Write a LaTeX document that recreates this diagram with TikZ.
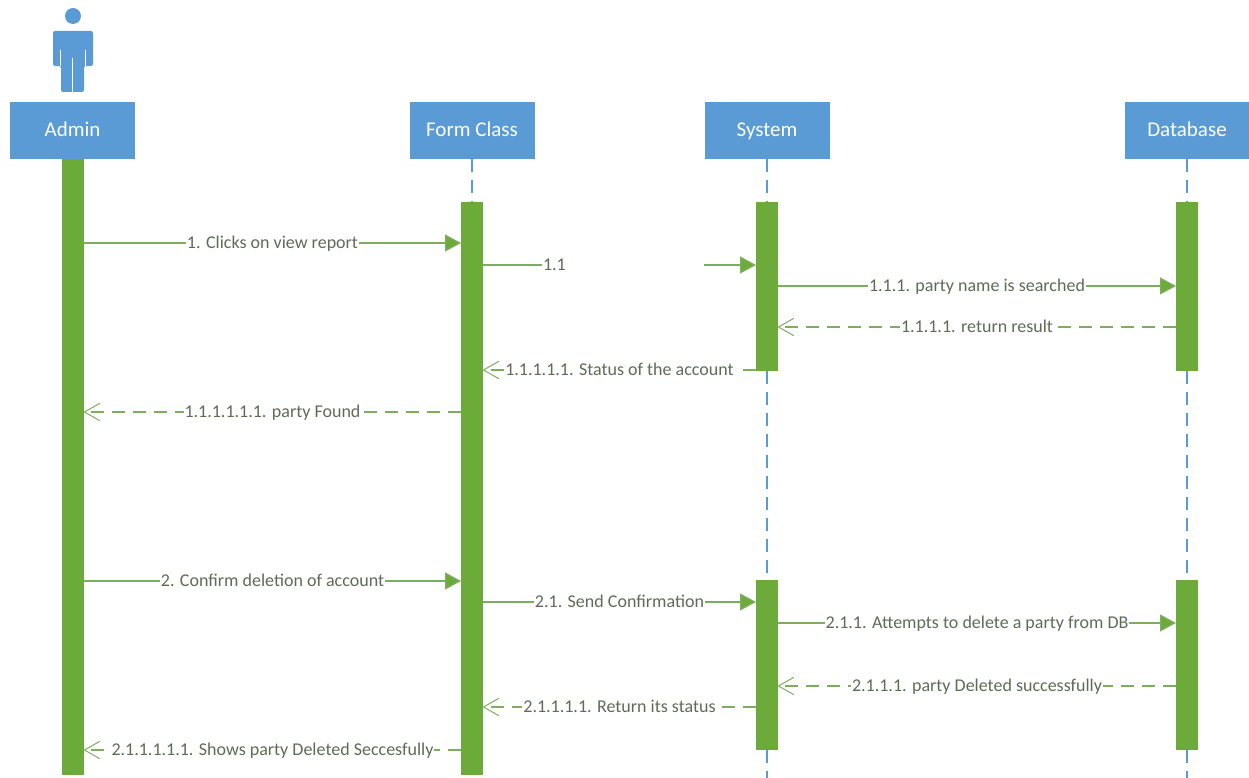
\documentclass[tikz,border=0pt]{standalone}
\usepackage{fontspec}
\setmainfont{Carlito}
\usetikzlibrary{arrows.meta}
\definecolor{boxblue}{HTML}{5B9BD5}
\definecolor{bargreen}{HTML}{6CAA3A}
\definecolor{msggreen}{HTML}{7DAE5F}
\definecolor{msgtext}{HTML}{5F6B58}
\tikzset{
	headbox/.style={rectangle, fill=boxblue, text=white, minimum width=125pt, minimum height=57pt, inner sep=0pt, outer sep=0pt, text height=14pt, text depth=2pt, font=\fontsize{21}{24}\selectfont},
	bar/.style={rectangle, fill=bargreen, minimum width=22pt, inner sep=0pt, outer sep=0pt},
	lifeline/.style={draw=boxblue, line width=1.3pt, dash pattern=on 13pt off 8pt},
	syncmsg/.style={draw=msggreen, line width=1.3pt, -{Triangle[length=16pt,width=17pt,fill=bargreen]}},
	returnmsg/.style={draw=msggreen, line width=1.3pt, dash pattern=on 13pt off 8pt, -{Straight Barb[length=15pt,width=17pt,line width=1pt,round]}},
	msglabel/.style={fill=white, text=msgtext, inner sep=1pt, text height=12pt, text depth=2pt, font=\fontsize{18}{21}\selectfont}
}
\begin{document}
\begin{tikzpicture}[x=1pt,y=-1pt]
	\useasboundingbox (0,0) rectangle (1249,778);

	% actor
	\fill[boxblue] (73,16) circle (8);
	\fill[boxblue, rounded corners=2pt] (53,31) -- (93,31) -- (93,66) -- (84,66) -- (84,92) -- (61,92) -- (61,66) -- (53,66) -- cycle;
	\draw[white, line width=1pt] (60,50) -- (60,66) (85,50) -- (85,66) (72.5,58) -- (72.5,92);

	\node[headbox] (adminbox) at (72.5,130.5) {Admin};
	\node[headbox] (formbox) at (472,130.5) {Form Class};
	\node[headbox] (systembox) at (767,130.5) {System};
	\node[headbox] (databasebox) at (1187,130.5) {Database};

	\node[bar, minimum height=616pt] (adminbar) at (73,467) {};
	\node[bar, minimum height=573pt] (formbar) at (472,488.5) {};
	\node[bar, minimum height=169pt] (systembar1) at (767,286.5) {};
	\node[bar, minimum height=170pt] (systembar2) at (767,665) {};
	\node[bar, minimum height=169pt] (databasebar1) at (1187,286.5) {};
	\node[bar, minimum height=170pt] (databasebar2) at (1187,665) {};
	\coordinate (systemend) at (767,778);
	\coordinate (databaseend) at (1187,778);

	\draw[lifeline] (formbox) -- (formbar);
	\draw[lifeline] (systembox) -- (systembar1);
	\draw[lifeline] (systembar1) -- (systembar2);
	\draw[lifeline] (systembar2) -- (systemend);
	\draw[lifeline] (databasebox) -- (databasebar1);
	\draw[lifeline] (databasebar1) -- (databasebar2);
	\draw[lifeline] (databasebar2) -- (databaseend);

	\draw[syncmsg] (adminbar.east |- 0,243) -- node[msglabel] (msgclicks) {1. Clicks on view report} (formbar.west |- 0,243);
	\draw[syncmsg] (formbar.east |- 0,265) -- node[msglabel, text width=160pt, align=left, xshift=3.5pt] (msgone) {1.1} (systembar1.west |- 0,265);
	\draw[syncmsg] (systembar1.east |- 0,286) -- node[msglabel] (msgsearched) {1.1.1. party name is searched} (databasebar1.west |- 0,286);
	\draw[returnmsg] (databasebar1.west |- 0,327) -- node[msglabel] (msgresult) {1.1.1.1. return result} (systembar1.east |- 0,327);
	\draw[returnmsg] (systembar1.west |- 0,370) -- node[msglabel] (msgstatus) {1.1.1.1.1. Status of the account} (formbar.east |- 0,370);
	\draw[returnmsg] (formbar.west |- 0,412) -- node[msglabel] (msgfound) {1.1.1.1.1.1. party Found} (adminbar.east |- 0,412);

	\draw[syncmsg] (adminbar.east |- 0,581) -- node[msglabel] (msgconfirm) {2. Confirm deletion of account} (formbar.west |- 0,581);
	\draw[syncmsg] (formbar.east |- 0,602) -- node[msglabel] (msgsend) {2.1. Send Confirmation} (systembar2.west |- 0,602);
	\draw[syncmsg] (systembar2.east |- 0,623) -- node[msglabel] (msgattempts) {2.1.1. Attempts to delete a party from DB} (databasebar2.west |- 0,623);
	\draw[returnmsg] (databasebar2.west |- 0,686) -- node[msglabel] (msgdeleted) {2.1.1.1. party Deleted successfully} (systembar2.east |- 0,686);
	\draw[returnmsg] (systembar2.west |- 0,707) -- node[msglabel] (msgreturn) {2.1.1.1.1. Return its status} (formbar.east |- 0,707);
	\draw[returnmsg] (formbar.west |- 0,750) -- node[msglabel] (msgshows) {2.1.1.1.1.1. Shows party Deleted Seccesfully} (adminbar.east |- 0,750);
\end{tikzpicture}
\end{document}
